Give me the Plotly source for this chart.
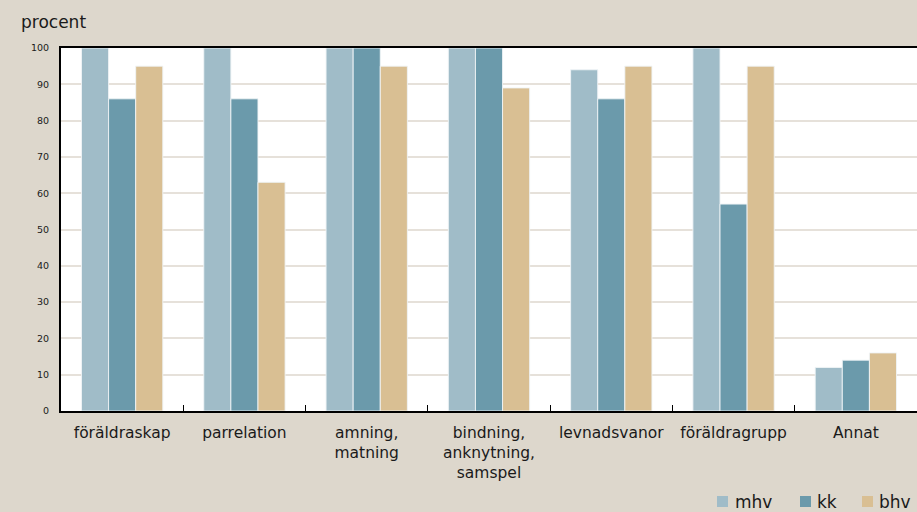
import plotly.graph_objects as go

categories = ["föräldraskap", "parrelation", "amning,<br>matning",
              "bindning,<br>anknytning,<br>samspel", "levnadsvanor",
              "föräldragrupp", "Annat"]
mhv = [100, 100, 100, 100, 94, 100, 12]
kk = [86, 86, 100, 100, 86, 57, 14]
bhv = [95, 63, 95, 89, 95, 95, 16]
series_names = ["mhv", "kk", "bhv"]
colors = ["#a0bcc8", "#6b9aab", "#d9bf93"]
y_ticks = [0, 10, 20, 30, 40, 50, 60, 70, 80, 90, 100]

font_family = "'DejaVu Sans', Lato, sans-serif"

W, H = 917, 512
ML, MR, MT, MB = 61, 0, 48, 101
PW, PH = W - ML - MR, H - MT - MB


def px_x(x):
    return (x - ML) / PW


def px_y(y):
    return (H - MB - y) / PH


fig = go.Figure()
for name, vals, col in zip(series_names, [mhv, kk, bhv], colors):
    fig.add_trace(go.Bar(
        x=categories, y=vals, name=name, showlegend=False,
        marker=dict(color=col, line=dict(color="rgba(240,244,246,0.9)", width=1)),
    ))

# manual legend (bottom right)
legend_pos = [(717, 733), (800, 815), (862, 877)]
shapes = []
annotations = [dict(
    text="procent", xref="paper", yref="paper", x=px_x(19), y=px_y(34),
    xanchor="left", yanchor="bottom", showarrow=False,
    font=dict(size=17, color="#1a1a1a"),
)]
for (sx, tx), name, col in zip(legend_pos, series_names, colors):
    shapes.append(dict(
        type="rect", xref="paper", yref="paper",
        x0=px_x(sx), x1=px_x(sx + 11), y0=px_y(507), y1=px_y(496),
        fillcolor=col, line=dict(width=0), layer="above",
    ))
    annotations.append(dict(
        text=name, xref="paper", yref="paper", x=px_x(tx), y=px_y(501.5),
        xanchor="left", yanchor="middle", showarrow=False,
        font=dict(size=17, color="#1a1a1a"),
    ))

fig.update_layout(
    width=W, height=H,
    paper_bgcolor="#ddd7cc",
    plot_bgcolor="#ffffff",
    barmode="group",
    bargap=0.335,
    bargroupgap=0,
    margin=dict(l=ML, r=MR, t=MT, b=MB, autoexpand=False),
    font=dict(family=font_family, color="#1a1a1a"),
    showlegend=False,
    shapes=shapes,
    annotations=annotations,
)

fig.update_yaxes(
    range=[0, 100], tickvals=y_ticks, ticktext=[str(v) for v in y_ticks],
    showgrid=True, gridcolor="#e6e1da", gridwidth=1.5,
    showline=True, linecolor="#000000", linewidth=2,
    ticks="", tickfont=dict(size=9.5, color="#1a1a1a"), ticklabelstandoff=8,
    zeroline=False, fixedrange=True,
)
fig.update_xaxes(
    showline=True, linecolor="#000000", linewidth=2, mirror=True,
    ticks="inside", ticklen=6, tickcolor="#000000", tickwidth=1,
    tickson="boundaries", tickfont=dict(size=15.5, color="#1a1a1a"),
    ticklabelstandoff=6,
    showgrid=False, fixedrange=True,
)

fig.write_html("out.html")
